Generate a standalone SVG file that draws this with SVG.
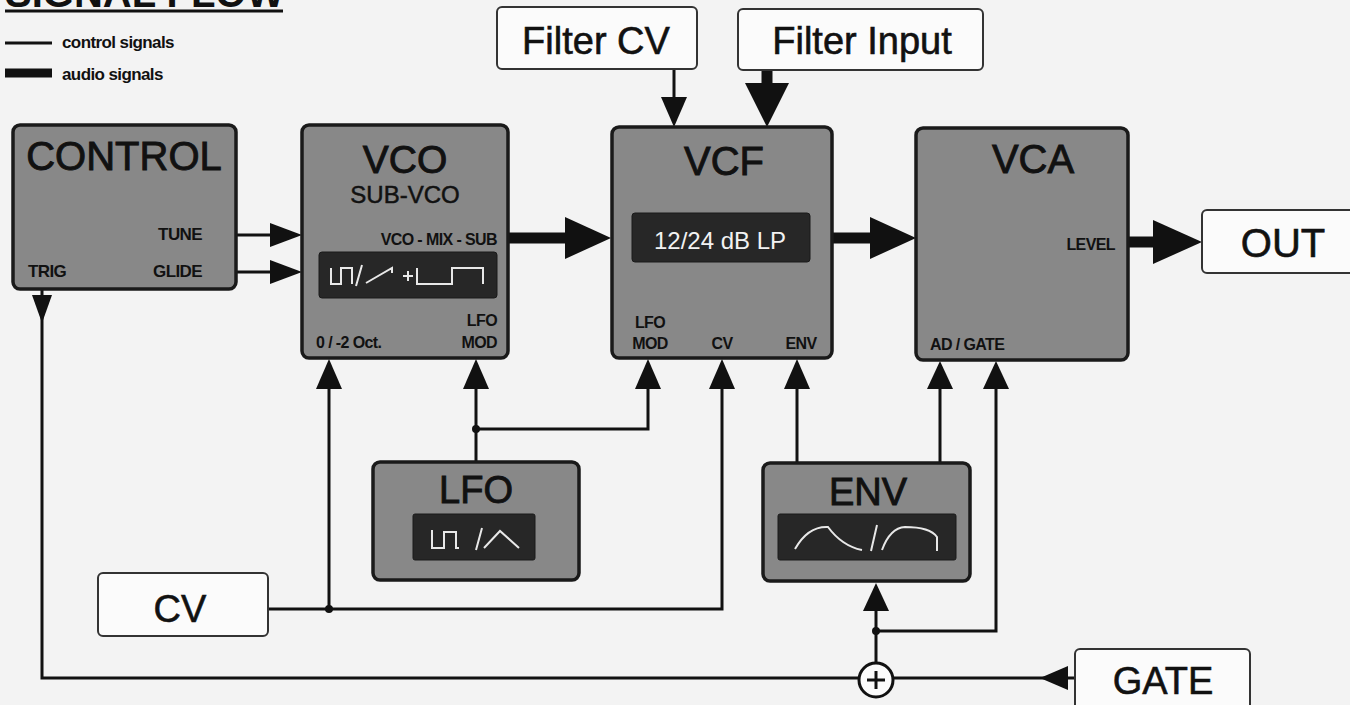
<svg xmlns="http://www.w3.org/2000/svg" width="1350" height="705" viewBox="0 0 1350 705">
<style>
.box{fill:#888888;stroke:#1a1a1a;stroke-width:3.5}
.io{fill:#fbfbfb;stroke:#333;stroke-width:2}
.disp{fill:#272727;stroke:#1a1a1a;stroke-width:1}
.wave{fill:none;stroke:#e8e8e8;stroke-width:2;stroke-linejoin:miter}
.t{font-family:"Liberation Sans",Arial,sans-serif;fill:#111}
.title{font-size:40px;text-anchor:middle;stroke:#111;stroke-width:0.9}
.io-t{font-size:38px;text-anchor:middle;stroke:#111;stroke-width:0.6}
.lbl{font-size:16px;font-weight:bold;letter-spacing:-0.6px}
.ctl{fill:none;stroke:#111;stroke-width:3}
.aud{fill:none;stroke:#111;stroke-width:11}
.head{fill:#111}
</style>
<rect width="1350" height="705" fill="#f3f3f3"/>

<g id="legend">
<text class="t" x="5" y="7" font-size="40" font-weight="bold">SIGNAL FLOW</text>
<line x1="5" y1="11" x2="283" y2="11" stroke="#111" stroke-width="3"/>
<line x1="5" y1="43" x2="52" y2="43" stroke="#111" stroke-width="3"/>
<text class="t lbl" x="62" y="48" style="font-size:17px">control signals</text>
<line x1="5" y1="73" x2="52" y2="73" stroke="#111" stroke-width="9"/>
<text class="t lbl" x="62" y="80" style="font-size:17px">audio signals</text>
</g>

<g id="connectors">
<!-- CONTROL to VCO -->
<line class="ctl" x1="237" y1="235" x2="272" y2="235"/>
<polygon class="head" points="270,223 302,235 270,247"/>
<line class="ctl" x1="237" y1="272" x2="272" y2="272"/>
<polygon class="head" points="270,260 302,272 270,284"/>
<!-- VCO to VCF audio -->
<line class="aud" x1="508" y1="238" x2="568" y2="238"/>
<polygon class="head" points="565,217 611,238 565,259"/>
<!-- VCF to VCA audio -->
<line class="aud" x1="832" y1="238" x2="872" y2="238"/>
<polygon class="head" points="870,217 916,238 870,259"/>
<!-- VCA to OUT audio -->
<line class="aud" x1="1129" y1="242" x2="1156" y2="242"/>
<polygon class="head" points="1153,220 1202,242 1153,264"/>
<!-- Filter CV -->
<line class="ctl" x1="674" y1="69" x2="674" y2="100"/>
<polygon class="head" points="661,97 687,97 674,127"/>
<!-- Filter Input -->
<line class="aud" x1="767" y1="70" x2="767" y2="86"/>
<polygon class="head" points="745,83 789,83 767,127"/>
<!-- TRIG / GATE loop -->
<polyline class="ctl" points="42,290 42,678 859,678"/>
<polygon class="head" points="32,295 52,295 42,323"/>
<line class="ctl" x1="893" y1="678" x2="1075" y2="678"/>
<polygon class="head" points="1068,666 1040,678 1068,690"/>
<!-- sum to ENV and VCA -->
<line class="ctl" x1="876" y1="663" x2="876" y2="608"/>
<polygon class="head" points="863,611 889,611 876,583"/>
<polyline class="ctl" points="876,631 996,631 996,386"/>
<circle cx="876" cy="631" r="4" fill="#111"/>
<polygon class="head" points="983,389 1009,389 996,361"/>
<!-- ENV to VCF and VCA -->
<line class="ctl" x1="797" y1="463" x2="797" y2="386"/>
<polygon class="head" points="784,389 810,389 797,359"/>
<line class="ctl" x1="940" y1="463" x2="940" y2="386"/>
<polygon class="head" points="927,389 953,389 940,361"/>
<!-- LFO -->
<line class="ctl" x1="476" y1="462" x2="476" y2="386"/>
<polygon class="head" points="463,389 489,389 476,359"/>
<polyline class="ctl" points="476,429 648,429 648,386"/>
<circle cx="476" cy="429" r="4" fill="#111"/>
<polygon class="head" points="635,389 661,389 648,359"/>
<!-- CV -->
<polyline class="ctl" points="268,609 722,609 722,386"/>
<circle cx="329" cy="609" r="4" fill="#111"/>
<line class="ctl" x1="329" y1="609" x2="329" y2="386"/>
<polygon class="head" points="316,389 342,389 329,359"/>
<polygon class="head" points="709,389 735,389 722,359"/>
</g>

<g id="sum">
<circle cx="876" cy="680" r="17" fill="#fbfbfb" stroke="#111" stroke-width="3"/>
<line x1="867" y1="680" x2="885" y2="680" stroke="#111" stroke-width="3"/>
<line x1="876" y1="671" x2="876" y2="689" stroke="#111" stroke-width="3"/>
</g>

<g id="control">
<rect class="box" x="13" y="125" width="223" height="164" rx="7"/>
<text class="t title" x="124" y="170">CONTROL</text>
<text class="t lbl" x="202" y="240" text-anchor="end" style="font-size:17px">TUNE</text>
<text class="t lbl" x="202" y="277" text-anchor="end" style="font-size:17px">GLIDE</text>
<text class="t lbl" x="28" y="277" style="font-size:17px">TRIG</text>
</g>

<g id="vco">
<rect class="box" x="302" y="125" width="206" height="233" rx="7"/>
<text class="t title" x="405" y="173" style="font-size:39px">VCO</text>
<text class="t" x="405" y="203" font-size="24" text-anchor="middle" stroke="#111" stroke-width="0.5">SUB-VCO</text>
<text class="t lbl" x="497" y="245" text-anchor="end">VCO - MIX - SUB</text>
<rect class="disp" x="319" y="252" width="178" height="46" rx="3"/>
<path class="wave" d="M331,268 V284 H341 V268 H352 V284 M356,286 L362,265 M366,283 L392,268 V273 M403,276 H413 M408,271 V281 M417,268 V284 H452 V268 H483 V284"/>
<text class="t lbl" x="497" y="326" text-anchor="end">LFO</text>
<text class="t lbl" x="497" y="348" text-anchor="end">MOD</text>
<text class="t lbl" x="316" y="348">0 / -2 Oct.</text>
</g>

<g id="vcf">
<rect class="box" x="612" y="127" width="220" height="231" rx="7"/>
<text class="t title" x="724" y="175">VCF</text>
<rect class="disp" x="632" y="213" width="178" height="49" rx="3"/>
<text class="t" x="720" y="249" font-size="24" text-anchor="middle" style="fill:#f2f2f2">12/24 dB LP</text>
<text class="t lbl" x="650" y="328" text-anchor="middle">LFO</text>
<text class="t lbl" x="650" y="349" text-anchor="middle">MOD</text>
<text class="t lbl" x="722" y="349" text-anchor="middle">CV</text>
<text class="t lbl" x="801" y="349" text-anchor="middle">ENV</text>
</g>

<g id="vca">
<rect class="box" x="916" y="128" width="212" height="232" rx="7"/>
<text class="t title" x="1033" y="173">VCA</text>
<text class="t lbl" x="1115" y="250" text-anchor="end">LEVEL</text>
<text class="t lbl" x="930" y="350">AD / GATE</text>
</g>

<g id="lfo">
<rect class="box" x="373" y="462" width="206" height="118" rx="7"/>
<text class="t title" x="476" y="503" style="font-size:38px">LFO</text>
<rect class="disp" x="413" y="514" width="122" height="46" rx="2"/>
<path class="wave" d="M432,530 V548 H444 V532 H456 V548 H459 M476,550 L482,528 M484,548 L500,531 L519,548"/>
</g>

<g id="env">
<rect class="box" x="763" y="463" width="207" height="118" rx="7"/>
<text class="t title" x="868" y="505" style="font-size:38px">ENV</text>
<rect class="disp" x="778" y="514" width="178" height="46" rx="2"/>
<path class="wave" d="M795,549 Q808,526 828,527 Q842,546 862,550 M871,551 L877,525 M882,550 Q890,528 905,527 Q930,527 937,537 V551"/>
</g>

<g id="filter-cv">
<rect class="io" x="497" y="7" width="200" height="62" rx="5"/>
<text class="t io-t" x="596" y="54">Filter CV</text>
</g>

<g id="filter-input">
<rect class="io" x="738" y="9" width="245" height="61" rx="5"/>
<text class="t io-t" x="862" y="54">Filter Input</text>
</g>

<g id="out">
<rect class="io" x="1202" y="210" width="160" height="63" rx="5"/>
<text class="t io-t" x="1283" y="257" style="font-size:40px">OUT</text>
</g>

<g id="cv">
<rect class="io" x="98" y="573" width="170" height="63" rx="5"/>
<text class="t io-t" x="180" y="622">CV</text>
</g>

<g id="gate">
<rect class="io" x="1075" y="649" width="175" height="70" rx="5"/>
<text class="t io-t" x="1163" y="694">GATE</text>
</g>
</svg>
